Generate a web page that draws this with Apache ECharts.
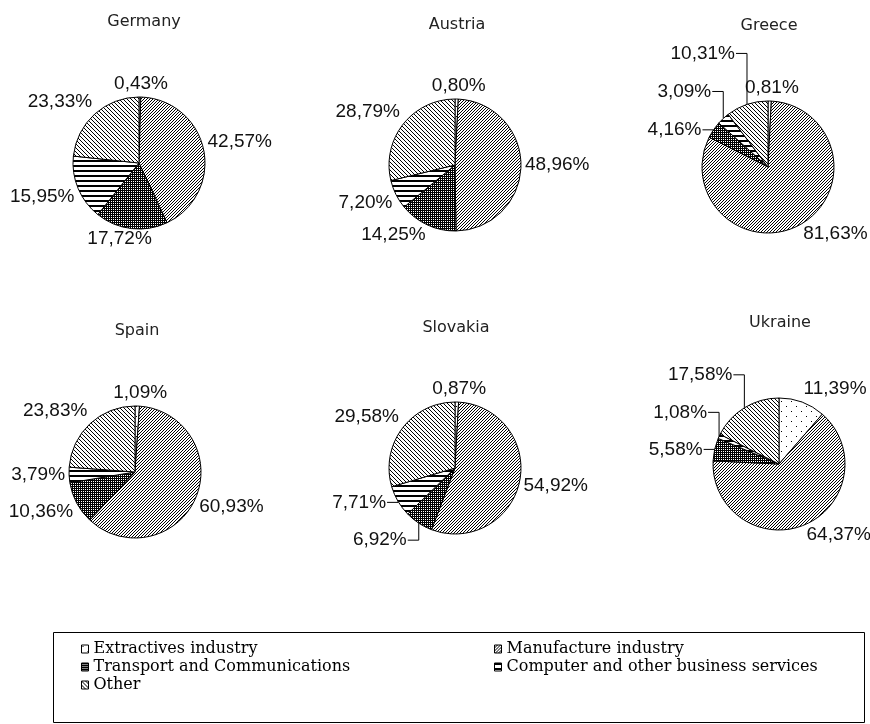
<!DOCTYPE html>
<html><head><meta charset="utf-8">
<script src="https://cdn.jsdelivr.net/npm/echarts@6/dist/echarts.min.js"></script>
<style>html,body{margin:0;padding:0;background:#fff}#c{width:870px;height:724px}</style>
</head><body><div id="c"></div>
<script>
const countries = ['Germany', 'Austria', 'Greece', 'Spain', 'Slovakia', 'Ukraine'];
const sectors = ['Extractives industry', 'Manufacture industry', 'Transport and Communications', 'Computer and other business services', 'Other'];
const germany  = [0.43, 42.57, 17.72, 15.95, 23.33];
const austria  = [0.80, 48.96, 14.25, 7.20, 28.79];
const greece   = [0.81, 81.63, 4.16, 3.09, 10.31];
const spain    = [1.09, 60.93, 10.36, 3.79, 23.83];
const slovakia = [0.87, 54.92, 6.92, 7.71, 29.58];
const ukraine  = [11.39, 64.37, 5.58, 1.08, 17.58];
const values = [germany, austria, greece, spain, slovakia, ukraine];

function pat(w, h, bg, draw) {
  const c = document.createElement('canvas');
  c.width = w; c.height = h;
  const x = c.getContext('2d');
  x.fillStyle = bg; x.fillRect(0, 0, w, h);
  draw(x);
  return { image: c, repeat: 'repeat' };
}
function px(x, pts, col) { x.fillStyle = col; pts.forEach(p => x.fillRect(p[0], p[1], 1, 1)); }
const patterns = [
  pat(10, 10, '#fff', x => px(x, [[1, 1], [6, 6]], '#000')),
  pat(3, 3, '#fff', x => px(x, [[2, 0], [1, 1], [0, 2]], '#000')),
  pat(2, 2, '#000', x => px(x, [[1, 1]], '#fff')),
  pat(1, 5, '#fff', x => { x.fillStyle = '#000'; x.fillRect(0, 0, 1, 2); }),
  pat(4, 4, '#fff', x => px(x, [[0, 0], [1, 1], [2, 2], [3, 3]], '#000'))
];

// layout
const centers = [[139, 163], [455, 165], [768, 167], [135, 472], [455, 468], [779, 464]];
const R = 66, GAP = 4, K = 3, LH = 16, DY = -1.5;
const titlePos = [[144, 14], [457, 17], [769, 18], [137, 323], [456, 320], [780, 315]];
// labels dragged away with leader lines: vertical shift of label from slice edge point
const leader = { 2: { 2: 0, 3: -27, 4: -51 }, 4: { 2: 17, 3: 1 }, 5: { 2: 0, 3: -24, 4: -33 } };

const LABEL_FONT = 'Liberation Sans, Arial, sans-serif';
const LABEL_SIZE = 19;
const meas = document.createElement('canvas').getContext('2d');
meas.font = LABEL_SIZE + 'px ' + LABEL_FONT;
const fmt = v => v.toFixed(2).replace('.', ',') + '%';

function midAngles(vals) {
  const tot = vals.reduce((a, b) => a + b, 0);
  let acc = 0;
  return vals.map(v => { const m = (acc + v / 2) / tot * 2 * Math.PI; acc += v; return m; });
}
const mids = values.map(midAngles);
const clamp = v => Math.max(-1, Math.min(1, v));

function makeLayout(si) {
  return function (p) {
    const di = p.dataIndex;
    const a = mids[si][di];
    const dx = Math.sin(a), dy = -Math.cos(a);
    const cx = centers[si][0], cy = centers[si][1];
    const lift = leader[si] ? leader[si][di] : undefined;
    if (lift !== undefined) {
      const xm = cx + dx * R, ym = cy + dy * R;
      const yc = ym + lift;
      const xr = xm - 12;
      return { x: xr, y: yc, align: 'right', verticalAlign: 'middle',
               labelLinePoints: [[xr + 1, yc], [xm, yc], [xm, ym]] };
    }
    const w = meas.measureText(fmt(values[si][di])).width;
    const ax = cx + dx * (R + GAP), ay = cy + dy * (R + GAP);
    return { x: ax + clamp(dx * K) * w / 2, y: ay + clamp(dy * K) * LH / 2 + DY,
             align: 'center', verticalAlign: 'middle' };
  };
}

const series = values.map((vals, si) => ({
  type: 'pie',
  center: centers[si],
  radius: R,
  startAngle: 90,
  clockwise: true,
  avoidLabelOverlap: false,
  minShowLabelAngle: 0,
  animation: false,
  silent: true,
  itemStyle: { borderColor: '#000', borderWidth: 1 },
  label: {
    show: true, position: 'outside', overflow: 'none', bleedMargin: 0,
    fontFamily: LABEL_FONT, fontSize: LABEL_SIZE, color: '#111',
    formatter: p => fmt(p.value)
  },
  labelLine: { show: false, length: 6, length2: 6, lineStyle: { color: '#000', width: 1 } },
  labelLayout: makeLayout(si),
  data: vals.map((v, i) => ({
    name: sectors[i], value: v,
    itemStyle: { color: patterns[i] },
    labelLine: { show: !!(leader[si] && leader[si][i] !== undefined) }
  }))
}));

const titles = countries.map((c, i) => ({
  text: c, left: titlePos[i][0], top: titlePos[i][1], textAlign: 'center', padding: 0,
  textStyle: { fontFamily: 'DejaVu Sans, sans-serif', fontSize: 16, fontWeight: 'normal', color: '#222' }
}));

const legendText = { fontFamily: 'DejaVu Serif, Liberation Serif, serif', fontSize: 16, color: '#000', lineHeight: 18 };
const legendBase = {
  orient: 'vertical', itemWidth: 7, itemHeight: 8, itemGap: 0, padding: 0,
  icon: 'rect', selectedMode: false, textStyle: legendText,
  itemStyle: { borderColor: '#000', borderWidth: 1 }
};

const chart = echarts.init(document.getElementById('c'), null, { renderer: 'canvas' });
chart.setOption({
  backgroundColor: '#fff',
  title: titles,
  legend: [
    { ...legendBase, left: 81, top: 640, data: [sectors[0], sectors[2], sectors[4]] },
    { ...legendBase, left: 494, top: 640, data: [sectors[1], sectors[3]] }
  ],
  graphic: [{
    type: 'rect', shape: { x: 53.5, y: 632.5, width: 811, height: 90 },
    style: { fill: 'none', stroke: '#000', lineWidth: 1 }, silent: true
  }],
  series
});
</script></body></html>
